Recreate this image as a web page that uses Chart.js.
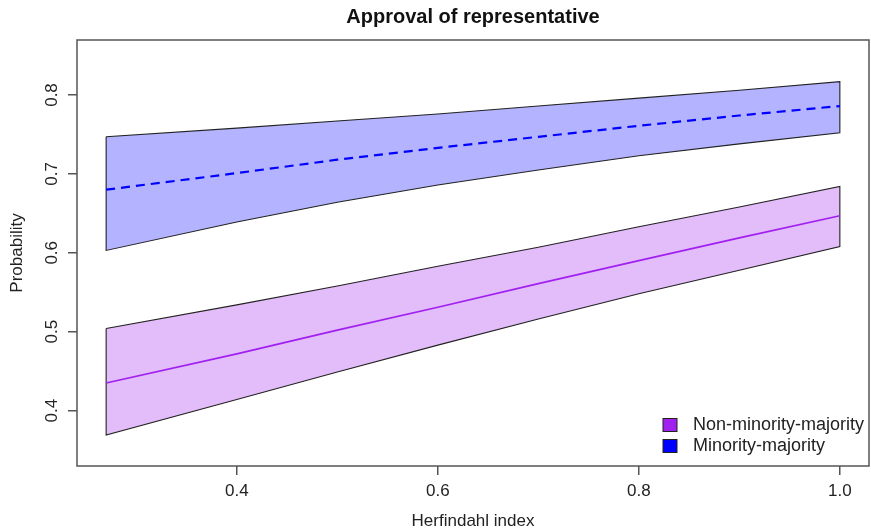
<!DOCTYPE html>
<html>
<head>
<meta charset="utf-8">
<script src="https://cdn.jsdelivr.net/npm/chart.js@4.4.1/dist/chart.umd.min.js"></script>
<style>
  html, body { margin: 0; padding: 0; background: #ffffff; }
  #wrap { width: 871px; height: 530px; }
</style>
</head>
<body>
<div id="wrap"><canvas id="c" width="871" height="530"></canvas></div>
<script>
// ---- Data ----
const herfindahl = [0.27, 0.4, 0.5, 0.6, 0.7, 0.8, 0.9, 1.0];

const minorityFit   = [0.680, 0.701, 0.718, 0.733, 0.747, 0.761, 0.774, 0.786];
const minorityLower = [0.603, 0.639, 0.664, 0.686, 0.705, 0.723, 0.738, 0.752];
const minorityUpper = [0.747, 0.758, 0.767, 0.776, 0.786, 0.796, 0.806, 0.817];

const nonMinorityFit   = [0.435, 0.472, 0.502, 0.531, 0.561, 0.590, 0.619, 0.647];
const nonMinorityLower = [0.369, 0.414, 0.449, 0.483, 0.516, 0.548, 0.578, 0.608];
const nonMinorityUpper = [0.504, 0.534, 0.558, 0.583, 0.607, 0.633, 0.658, 0.684];

const xTicks = [0.4, 0.6, 0.8, 1.0];
const yTicks = [0.4, 0.5, 0.6, 0.7, 0.8];

const legendLabels = ['Non-minority-majority', 'Minority-majority'];
const chartTitle = 'Approval of representative';
const xTitle = 'Herfindahl index';
const yTitle = 'Probability';

// ---- helpers ----
function pts(xs, ys) { return xs.map((x, i) => ({ x: x, y: ys[i] })); }
function polygon(xs, upper, lower) {
  const top = pts(xs, upper);
  const bottom = pts(xs, lower).reverse();
  return top.concat(bottom, [top[0]]);
}

const FONT = "'Liberation Sans', Arial, Helvetica, sans-serif";
const AXIS_COLOR = '#555555';
const PURPLE = '#A020F0';
const BLUE = '#0000FF';

const boxPlugin = {
  id: 'boxPlugin',
  afterDatasetsDraw(chart) {
    const a = chart.chartArea;
    const ctx = chart.ctx;
    ctx.save();
    ctx.strokeStyle = AXIS_COLOR;
    ctx.lineWidth = 1.5;
    ctx.strokeRect(a.left, a.top, a.right - a.left, a.bottom - a.top);
    ctx.restore();
  }
};

const legendPlugin = {
  id: 'rLegend',
  afterDraw(chart) {
    const ctx = chart.ctx;
    const colors = [PURPLE, BLUE];
    const rowY = [425, 446];
    ctx.save();
    ctx.font = '18px ' + FONT;
    ctx.textBaseline = 'middle';
    ctx.textAlign = 'left';
    legendLabels.forEach((lab, i) => {
      ctx.fillStyle = colors[i];
      ctx.fillRect(663, rowY[i] - 6.5, 14, 13);
      ctx.strokeStyle = '#222222';
      ctx.lineWidth = 1;
      ctx.strokeRect(663, rowY[i] - 6.5, 14, 13);
      ctx.fillStyle = '#222222';
      ctx.fillText(lab, 693, rowY[i]);
    });
    ctx.restore();
  }
};

const ctx = document.getElementById('c').getContext('2d');
new Chart(ctx, {
  type: 'line',
  data: {
    datasets: [
      {
        label: legendLabels[1] + ' band',
        data: polygon(herfindahl, minorityUpper, minorityLower),
        backgroundColor: '#B3B3FF',
        borderColor: '#222222',
        borderWidth: 1.1,
        fill: 'shape',
        pointRadius: 0,
        tension: 0,
        order: 3
      },
      {
        label: legendLabels[0] + ' band',
        data: polygon(herfindahl, nonMinorityUpper, nonMinorityLower),
        backgroundColor: '#E3BCFA',
        borderColor: '#222222',
        borderWidth: 1.1,
        fill: 'shape',
        pointRadius: 0,
        tension: 0,
        order: 3
      },
      {
        label: legendLabels[1],
        data: pts(herfindahl, minorityFit),
        borderColor: BLUE,
        borderWidth: 2.2,
        borderDash: [9, 6],
        fill: false,
        pointRadius: 0,
        tension: 0,
        order: 1
      },
      {
        label: legendLabels[0],
        data: pts(herfindahl, nonMinorityFit),
        borderColor: PURPLE,
        borderWidth: 1.7,
        fill: false,
        pointRadius: 0,
        tension: 0,
        order: 1
      }
    ]
  },
  options: {
    responsive: false,
    animation: false,
    devicePixelRatio: 1,
    layout: { padding: { left: 0, right: 2, top: 0, bottom: 0 } },
    plugins: {
      legend: { display: false },
      tooltip: { enabled: false },
      title: {
        display: true,
        text: chartTitle,
        fullSize: false,
        color: '#111111',
        font: { family: FONT, size: 20, weight: 'bold', lineHeight: 1.2 },
        padding: { top: 5.5, bottom: 10.5 }
      }
    },
    scales: {
      x: {
        type: 'linear',
        min: 0.241,
        max: 1.029,
        afterBuildTicks(scale) { scale.ticks = xTicks.map(v => ({ value: v })); },
        afterFit(scale) { scale.height = 64; },
        grid: { display: true, drawOnChartArea: false, drawTicks: true, tickLength: 9, color: AXIS_COLOR, lineWidth: 1.5 },
        border: { display: false },
        ticks: {
          color: '#222222',
          font: { family: FONT, size: 17 },
          padding: 6,
          maxRotation: 0,
          minRotation: 0,
          callback: (v) => Number(v).toFixed(1)
        },
        title: {
          display: true,
          text: xTitle,
          color: '#222222',
          font: { family: FONT, size: 17, lineHeight: 1.0 },
          padding: { top: 0, bottom: 0 }
        }
      },
      y: {
        type: 'linear',
        min: 0.3298,
        max: 0.8697,
        afterBuildTicks(scale) { scale.ticks = yTicks.map(v => ({ value: v })); },
        afterFit(scale) { scale.width = 77; },
        grid: { display: true, drawOnChartArea: false, drawTicks: true, tickLength: 9, color: AXIS_COLOR, lineWidth: 1.5 },
        border: { display: false },
        ticks: {
          color: '#222222',
          font: { family: FONT, size: 17 },
          padding: 3.5,
          minRotation: 90,
          maxRotation: 90,
          crossAlign: 'center',
          callback: (v) => Number(v).toFixed(1)
        },
        title: {
          display: true,
          text: yTitle,
          color: '#222222',
          font: { family: FONT, size: 17, lineHeight: 1.2 },
          padding: { top: 6.8, bottom: 0 }
        }
      }
    }
  },
  plugins: [boxPlugin, legendPlugin]
});
</script>
</body>
</html>
